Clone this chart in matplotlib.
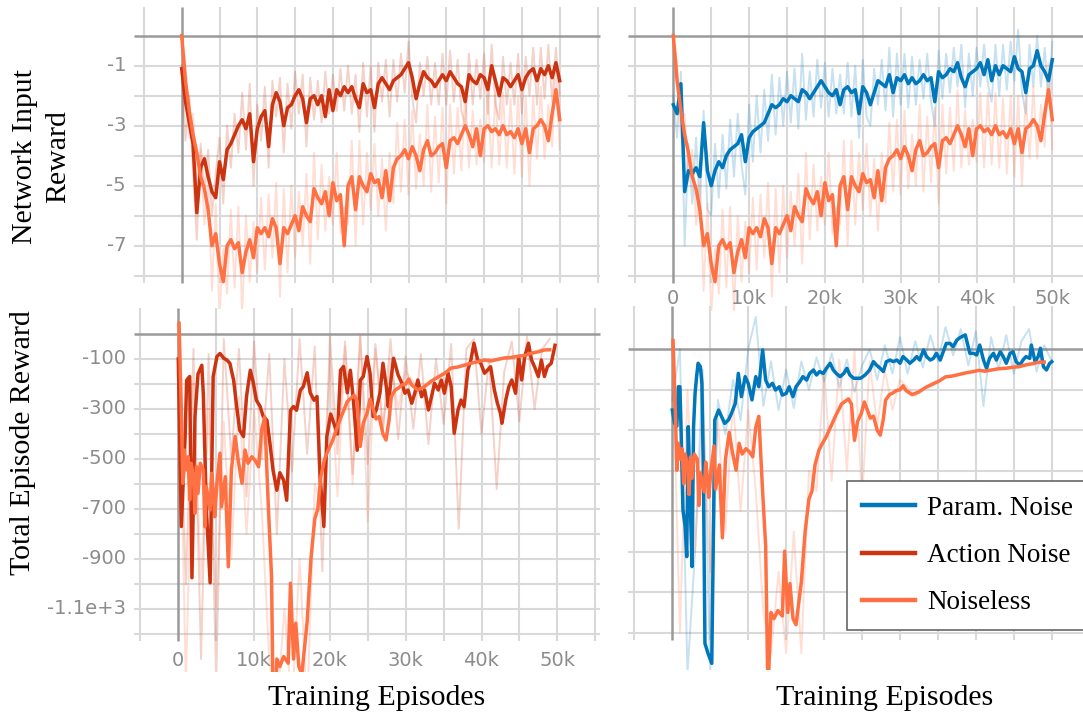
import numpy as np
import matplotlib.pyplot as plt
from matplotlib.lines import Line2D

W, H = 1083, 717

C_PARAM = '#0077bb'
C_ACTION = '#cc3311'
C_NOISELESS = '#ff7043'
GRID = '#d9d9d9'
ZERO = '#9a9a9a'
TICK = '#8c8c8c'

# ---------------- top row: network input reward (one value every 500 episodes)
top_steps = np.arange(0, 50001, 500)

act_top = [-1.1, -2.2, -2.9, -3.6, -5.9, -4.4, -4.1, -4.7, -5.2, -5.4,
           -4.2, -4.8, -3.8, -3.6, -3.3, -3.0, -2.8, -3.1, -2.6, -4.2,
           -3.1, -2.7, -2.5, -3.7, -2.3, -1.9, -2.2, -3.0, -2.4, -2.3,
           -2.0, -1.8, -2.1, -2.9, -2.1, -2.0, -2.3, -2.0, -2.7, -1.8,
           -2.5, -1.8, -2.0, -1.7, -1.9, -1.7, -2.1, -2.4, -1.6, -1.9,
           -1.8, -2.4, -1.6, -1.4, -1.6, -1.8, -1.5, -1.4, -1.3, -1.1,
           -0.9, -1.4, -2.1, -1.6, -1.2, -1.4, -1.5, -1.7, -1.5, -1.3,
           -1.5, -1.2, -1.4, -1.6, -1.7, -2.2, -1.3, -1.5, -1.6, -1.3,
           -1.4, -1.8, -1.0, -1.5, -2.0, -1.4, -1.5, -1.7, -1.5, -1.3,
           -1.8, -1.4, -1.2, -1.1, -1.5, -1.1, -1.3, -1.0, -1.4, -0.9,
           -1.5]
act_top_raw = [-1.0, -3.5, -2.0, -4.5, -6.8, -3.6, -5.2, -3.8, -6.0, -4.6,
               -3.4, -5.6, -3.0, -4.4, -2.6, -3.9, -1.9, -3.8, -1.6, -5.0,
               -2.3, -3.5, -1.7, -4.4, -1.5, -2.7, -1.4, -3.9, -1.6, -3.1,
               -1.2, -2.6, -1.3, -3.7, -1.4, -2.8, -1.5, -2.9, -1.2, -2.6,
               -1.3, -2.5, -1.1, -2.5, -1.0, -2.6, -1.3, -3.2, -0.9, -2.7,
               -1.0, -3.2, -0.9, -2.2, -0.8, -2.7, -0.8, -2.2, -0.6, -1.9,
               -0.2, -2.1, -2.9, -0.9, -2.0, -0.7, -2.3, -0.9, -2.3, -0.6,
               -2.3, -0.5, -2.2, -0.8, -2.5, -3.0, -0.6, -2.3, -0.8, -2.1,
               -0.6, -2.6, -0.3, -2.3, -2.8, -0.7, -2.3, -0.9, -2.3, -0.6,
               -2.6, -0.7, -2.0, -0.4, -2.3, -0.4, -2.1, -0.3, -2.2, -0.4,
               -2.0]

nl_top = [0.0, -1.5, -2.5, -3.3, -3.9, -4.7, -5.1, -5.8, -7.0, -6.6,
          -7.6, -8.2, -7.0, -6.8, -7.1, -6.9, -7.9, -7.2, -6.8, -7.4,
          -6.4, -6.6, -6.4, -6.7, -6.1, -6.4, -7.6, -6.4, -6.6, -6.3,
          -6.0, -6.5, -5.7, -6.0, -6.2, -5.1, -5.4, -5.6, -5.2, -6.0,
          -4.9, -5.5, -5.3, -7.0, -5.0, -4.7, -5.8, -4.7, -5.0, -5.2,
          -4.6, -4.9, -4.8, -5.4, -4.5, -5.5, -4.4, -4.1, -4.0, -3.8,
          -4.1, -3.7, -4.0, -4.5, -3.8, -3.5, -4.0, -3.9, -3.7, -3.6,
          -4.4, -3.5, -3.4, -3.6, -3.3, -3.0, -3.3, -3.7, -3.1, -4.0,
          -3.1, -3.0, -3.2, -3.1, -3.3, -3.0, -3.3, -3.2, -3.4, -3.1,
          -3.6, -3.1, -3.9, -3.1, -3.0, -2.8, -3.0, -3.5, -2.6, -1.8,
          -2.8]
nl_top_raw = [0.0, -0.9, -3.4, -2.6, -4.9, -3.8, -6.3, -4.8, -8.5, -5.6,
              -9.3, -7.1, -8.6, -5.8, -8.4, -5.7, -9.3, -6.0, -8.2, -6.2,
              -7.9, -5.4, -7.8, -5.3, -7.4, -4.9, -8.7, -5.1, -7.9, -5.0,
              -7.4, -5.2, -7.0, -4.6, -7.6, -3.9, -6.8, -4.3, -6.5, -4.7,
              -6.3, -3.9, -6.6, -5.7, -6.3, -3.5, -7.0, -3.5, -6.3, -3.9,
              -5.8, -3.6, -6.0, -4.1, -6.5, -3.9, -5.6, -2.9, -5.2, -2.8,
              -5.3, -2.5, -5.1, -3.3, -5.0, -2.3, -5.2, -2.7, -4.9, -2.4,
              -5.6, -2.3, -4.6, -2.4, -4.5, -1.8, -4.4, -2.5, -4.3, -2.8,
              -4.2, -1.9, -4.4, -1.9, -4.3, -1.9, -4.4, -2.1, -4.6, -2.0,
              -4.7, -2.0, -5.0, -2.0, -4.1, -1.7, -4.1, -2.3, -3.7, -0.9,
              -3.8]

pm_top = [-2.3, -2.6, -1.6, -5.2, -4.5, -4.6, -4.4, -4.7, -2.9, -4.5,
          -5.0, -4.5, -4.2, -4.4, -4.0, -3.8, -3.7, -3.6, -3.3, -4.2,
          -3.4, -3.2, -3.1, -3.0, -2.9, -2.6, -2.3, -2.4, -2.3, -2.1,
          -2.2, -2.0, -2.1, -2.2, -1.8, -1.9, -2.1, -1.9, -1.7, -1.5,
          -1.7, -1.9, -2.0, -1.8, -2.3, -1.8, -1.7, -1.9, -1.8, -2.6,
          -1.7, -1.9, -2.3, -1.9, -1.5, -1.6, -1.7, -1.3, -1.9, -1.4,
          -1.5, -1.3, -1.6, -1.4, -1.6, -1.5, -1.3, -1.5, -1.4, -2.2,
          -1.2, -1.4, -1.3, -1.1, -1.2, -0.9, -1.4, -1.7, -1.3, -1.2,
          -1.1, -0.9, -1.3, -0.8, -1.5, -1.0, -1.3, -1.0, -1.1, -1.2,
          -0.7, -1.1, -1.2, -1.9, -1.1, -1.0, -0.5, -1.0, -1.2, -1.5,
          -0.8]
pm_top_raw = [-2.0, -3.4, -1.2, -7.0, -3.6, -5.6, -3.4, -5.8, -2.5, -5.8,
              -6.0, -3.6, -5.4, -3.3, -5.1, -2.8, -4.7, -2.6, -4.3, -5.3,
              -2.3, -4.2, -2.0, -3.9, -1.8, -3.5, -1.3, -3.3, -1.4, -3.0,
              -1.2, -2.9, -1.1, -3.1, -0.6, -2.8, -1.2, -2.7, -0.8, -2.4,
              -0.9, -2.7, -1.1, -2.6, -1.3, -2.6, -0.9, -2.7, -1.0, -3.4,
              -0.8, -2.7, -3.0, -1.1, -2.3, -0.8, -2.5, -0.4, -2.7, -0.6,
              -2.3, -0.6, -2.4, -0.7, -2.3, -0.8, -2.1, -0.6, -2.2, -3.0,
              -0.5, -2.1, -0.6, -1.9, -0.4, -1.7, -0.3, -2.4, -0.6, -2.0,
              -0.4, -1.7, -0.3, -1.6, -2.2, -0.3, -2.0, -0.3, -1.8, -0.2,
              -1.5, 0.2, -1.9, -2.6, -0.3, -1.7, 0.0, -1.7, -0.4, -2.2,
              -0.2]

# ---------------- bottom row: total episode reward (x in thousands of episodes)
act_bot_x = [0.0, 0.4, 0.9, 1.1, 1.5, 1.8, 2.2, 2.6, 3.1, 3.3,
             3.7, 4.2, 4.6, 5.1, 5.5, 6.0, 6.4, 6.8, 7.3, 7.7,
             8.1, 8.6, 9.0, 9.5, 9.9, 10.3, 10.8, 11.2, 11.7, 12.1,
             12.5, 13.0, 13.4, 13.9, 14.3, 14.8, 15.2, 15.6, 16.1, 16.5,
             17.0, 17.4, 17.9, 18.3, 18.7, 19.2, 19.6, 20.1, 20.5, 21.0,
             21.4, 21.8, 22.3, 22.7, 23.1, 23.6, 24.0, 24.4, 24.9, 25.3,
             25.7, 26.1, 26.6, 27.0, 27.5, 27.7, 28.1, 28.4, 29.0, 29.5,
             29.9, 30.3, 30.8, 31.2, 31.6, 32.1, 32.5, 33.0, 33.4, 33.8,
             34.3, 34.7, 35.1, 35.6, 36.0, 36.4, 36.9, 37.3, 37.7, 38.2,
             38.6, 39.0, 39.5, 39.9, 40.4, 40.8, 41.2, 41.7, 42.1, 42.5,
             42.7, 43.2, 43.6, 44.0, 44.5, 44.9, 45.3, 45.7, 46.2, 46.6,
             47.0, 47.5, 47.9, 48.3, 48.7, 49.2, 49.7]
act_bot = [-100, -770, -410, -185, -170, -975, -330, -160, -125, -240,
           -700, -995, -170, -90, -78, -97, -104, -117, -185, -290,
           -385, -410, -250, -145, -195, -265, -290, -330, -345, -440,
           -545, -625, -555, -585, -665, -305, -290, -305, -225, -210,
           -155, -235, -265, -250, -570, -770, -410, -320, -355, -400,
           -145, -130, -235, -145, -265, -465, -185, -170, -90, -157,
           -330, -305, -237, -117, -224, -291, -170, -97, -164, -197,
           -237, -224, -277, -237, -184, -251, -224, -304, -251, -197,
           -224, -184, -237, -157, -211, -397, -304, -264, -291, -144,
           -104, -37, -104, -117, -157, -144, -131, -224, -277, -317,
           -357, -264, -211, -184, -237, -91, -184, -91, -37, -104,
           -131, -170, -104, -170, -131, -117, -45]
act_bot_raw_x = list(range(0, 50))
act_bot_raw = [-20, -1000, -60, -1300, -80, -1400, -20, -500, -60, -650,
               -30, -500, -80, -800, -100, -550, -20, -480, -50, -950,
               -10, -480, -30, -560, -10, -520, -40, -380, -20, -420,
               -90, -380, -80, -440, -100, -360, -40, -780, -60, -20,
               -400, -100, -620, -150, -30, -350, -10, -300, -60, -20]

nl_bot_x = [0.1, 0.4, 0.6, 0.8, 1.1, 1.3, 1.5, 1.7, 2.0, 2.2,
            2.4, 2.6, 2.9, 3.3, 3.5, 3.7, 4.2, 4.4, 4.6, 4.8,
            5.1, 5.5, 5.7, 6.2, 6.6, 7.0, 7.5, 7.9, 8.4, 8.8,
            9.2, 9.7, 10.1, 10.6, 11.0, 11.4, 11.9, 12.1, 12.3, 12.6,
            13.0, 13.4, 13.9, 14.5, 14.8, 15.2, 15.5, 15.9, 16.3, 17.0,
            17.5, 18.0, 18.4, 18.8, 19.3, 19.7, 20.3, 20.9, 21.5, 22.3,
            23.2, 23.6, 24.0, 24.4, 24.9, 25.3, 25.7, 26.1, 26.5, 27.0,
            27.4, 27.8, 28.1, 28.6, 29.0, 29.5, 30.0, 30.4, 30.8, 31.6,
            32.5, 33.4, 34.3, 35.1, 36.0, 36.9, 37.7, 38.6, 39.5, 40.4,
            41.2, 42.1, 43.0, 43.9, 44.8, 45.7, 46.6, 47.5, 48.3, 49.0]
nl_bot = [43, -304, -597, -464, -544, -491, -664, -517, -571, -717,
          -531, -637, -517, -544, -771, -611, -704, -557, -624, -731,
          -597, -477, -691, -571, -931, -544, -410, -504, -597, -464,
          -517, -491, -504, -531, -384, -331, -704, -837, -970, -1700,
          -1300, -1330, -1290, -1317, -997, -1300, -1157, -1330, -1360, -1150,
          -900, -740, -700, -571, -500, -470, -430, -380, -330, -270,
          -245, -270, -450, -357, -317, -260, -300, -340, -330, -400,
          -424, -345, -251, -224, -217, -204, -200, -180, -204, -224,
          -210, -188, -172, -158, -136, -132, -125, -117, -111, -104,
          -108, -102, -96, -94, -89, -86, -77, -71, -64, -63]
nl_bot_raw_x = list(range(0, 31)) + list(range(32, 49, 2))
nl_bot_raw = [40, -1400, -200, -1000, -300, -1100, -350, -900, -250, -800,
              -300, -700, -1300, -1500, -1100, -1500, -900, -1500, -600, -700,
              -100, -650, -50, -600, 0, -750, -60, -380, -100, -300,
              -150, -230, -170, -140, -120, -105, -100, -90, -80, -60]

pm_bot_x = [0.0, 0.3, 0.6, 0.8, 1.0, 1.2, 1.4, 1.7, 1.9, 2.1,
            2.3, 2.6, 2.8, 3.0, 3.2, 3.4, 3.7, 3.9, 4.1, 4.3,
            4.7, 5.2, 5.4, 5.6, 6.1, 6.5, 6.9, 7.4, 7.8, 8.3,
            8.7, 9.1, 9.6, 10.0, 10.5, 11.0, 11.4, 11.9, 12.3, 12.7,
            13.2, 13.6, 14.1, 14.5, 15.0, 15.4, 15.9, 16.3, 16.8, 17.2,
            17.7, 18.1, 18.6, 19.0, 19.4, 19.9, 20.3, 20.8, 21.2, 21.6,
            22.1, 22.6, 23.0, 23.4, 23.9, 24.8, 25.4, 26.0, 26.5, 26.9,
            27.4, 27.8, 28.2, 28.7, 29.1, 29.6, 30.0, 30.4, 30.9, 31.3,
            31.8, 32.2, 32.6, 33.1, 33.5, 34.0, 34.4, 34.8, 35.3, 35.7,
            36.1, 36.6, 37.0, 37.5, 38.0, 38.6, 39.2, 39.7, 40.1, 40.5,
            41.0, 41.4, 41.8, 42.3, 42.7, 43.2, 43.6, 44.0, 44.5, 44.9,
            45.3, 45.8, 46.2, 46.6, 47.1, 47.3, 47.8, 48.2, 48.5, 48.9,
            49.3, 49.7, 50.0]
pm_bot = [-300, -365, -380, -185, -185, -464, -794, -876, -1024, -382,
          -662, -1073, -382, -218, -135, -69, -86, -168, -629, -1452,
          -1501, -1551, -958, -349, -300, -333, -366, -349, -316, -267,
          -119, -234, -135, -168, -250, -135, -185, -3, -152, -185,
          -168, -201, -185, -226, -218, -185, -234, -185, -160, -135,
          -152, -119, -102, -127, -110, -119, -94, -69, -102, -119,
          -135, -119, -94, -127, -143, -143, -127, -102, -61, -78,
          -94, -110, -61, -53, -61, -53, -69, -36, -53, -69,
          -53, -36, -53, -3, -36, -53, -45, -20, -53, -12,
          29, 29, 13, 46, 60, 71, -20, -20, -28, 21,
          -53, -94, -45, -20, -53, -12, -36, -69, -20, -12,
          -61, -78, -53, -36, -45, 21, -61, -36, 5, -86,
          -102, -70, -61]
pm_bot_raw_x = list(range(0, 51))
pm_bot_raw = [-250, 0, -1600, -1000, -100, -1600, -250, -420, -150, -350,
              0, 160, -280, -60, -300, -100, -290, -60, -200, -40,
              -160, -20, -190, -50, -210, -80, 0, -150, 20, -120,
              60, -120, 40, -90, 70, -60, 110, -30, 100, -80,
              90, -280, 60, -100, 70, -120, 40, 100, -110, 20,
              -60]

top_ticks = [-1, -3, -5, -7]
bot_ticks = [-100, -300, -500, -700, -900, -1100]
bot_tick_labels = ['-100', '-300', '-500', '-700', '-900', '-1.1e+3']
x_ticks = [0, 10000, 20000, 30000, 40000, 50000]
x_tick_labels = ['0', '10k', '20k', '30k', '40k', '50k']


fig = plt.figure(figsize=(W / 100, H / 100), dpi=100)


def panel(left, right, top, bottom, x0, sx, y0, sy):
    # box of the axes in pixels, pixel position of the origin, pixels per unit
    ax = fig.add_axes([left / W, 1 - bottom / H, (right - left) / W, (bottom - top) / H])
    ax.set_xlim((left - x0) / sx, (right - x0) / sx)
    ax.set_ylim((y0 - bottom) / sy, (y0 - top) / sy)
    ax.axis('off')
    ax.patch.set_alpha(0)
    px = lambda p: (p - x0) / sx
    py = lambda p: (y0 - p) / sy
    return ax, px, py


def grid(ax, px, py, xspan, yspan, ylines):
    xs = (px(xspan[0]), px(xspan[1]))
    ys = (py(yspan[0]), py(yspan[1]))
    vlines = [v for v in range(-5000, 55001, 5000) if v != 0]
    ax.hlines(ylines, *xs, colors=GRID, lw=1.5, zorder=0)
    ax.vlines(vlines, ys[1], ys[0], colors=GRID, lw=1.5, zorder=0)
    ax.hlines(0, *xs, colors=ZERO, lw=1.8, zorder=0.5)
    ax.vlines(0, ys[1], ys[0], colors=ZERO, lw=1.8, zorder=0.5)


def faint(ax, x, y, c):
    ax.plot(x, y, color=c, lw=1.4, alpha=0.22, zorder=1, solid_joinstyle='round')


def bold(ax, x, y, c, lw=2.5):
    ax.plot(x, y, color=c, lw=lw, zorder=2, solid_joinstyle='round')


tick_font = dict(family='DejaVu Sans', size=14, color=TICK)

# top left: action noise vs noiseless
ax, px, py = panel(128, 601, 4, 309, 181.7, 0.00756, 35.7, 30)
grid(ax, px, py, (134, 600), (7, 283), [-1, -2, -3, -4, -5, -6, -7, -8])
faint(ax, top_steps, act_top_raw, C_ACTION)
faint(ax, top_steps, nl_top_raw, C_NOISELESS)
bold(ax, top_steps, act_top, C_ACTION)
bold(ax, top_steps, nl_top, C_NOISELESS)
for v in top_ticks:
    ax.text(px(126), v, str(v), ha='right', va='center', **tick_font)

# top right: param noise vs noiseless
ax, px, py = panel(625, 1083, 4, 311, 673.3, 0.00758, 35.7, 30)
grid(ax, px, py, (628, 1083), (7, 283), [-1, -2, -3, -4, -5, -6, -7, -8])
faint(ax, top_steps, pm_top_raw, C_PARAM)
faint(ax, top_steps, nl_top_raw, C_NOISELESS)
bold(ax, top_steps, pm_top, C_PARAM)
bold(ax, top_steps, nl_top, C_NOISELESS)
for x, lab in zip(x_ticks, x_tick_labels):
    ax.text(x, py(298), lab, ha='center', va='center', zorder=5, **tick_font)

# bottom left
ax, px, py = panel(128, 601, 298, 672, 178.3, 0.00758, 334, 0.25)
grid(ax, px, py, (134, 600), (308, 641), list(range(-100, -1201, -100)))
faint(ax, np.array(act_bot_raw_x) * 1000, act_bot_raw, C_ACTION)
faint(ax, np.array(nl_bot_raw_x) * 1000, nl_bot_raw, C_NOISELESS)
bold(ax, np.array(act_bot_x) * 1000, act_bot, C_ACTION)
bold(ax, np.array(nl_bot_x) * 1000, nl_bot, C_NOISELESS)
for v, lab in zip(bot_ticks, bot_tick_labels):
    ax.text(px(126), v, lab, ha='right', va='center', **tick_font)
for x, lab in zip(x_ticks, x_tick_labels):
    ax.text(x, py(660), lab, ha='center', va='center', zorder=5, **tick_font)

# bottom right
ax, px, py = panel(625, 1083, 298, 670, 672.3, 0.00759, 349.3, 0.2025)
grid(ax, px, py, (628, 1083), (306, 640), list(range(-200, -1401, -200)))
faint(ax, np.array(pm_bot_raw_x) * 1000, pm_bot_raw, C_PARAM)
faint(ax, np.array(nl_bot_raw_x) * 1000, nl_bot_raw, C_NOISELESS)
bold(ax, np.array(pm_bot_x) * 1000, pm_bot, C_PARAM)
bold(ax, np.array(nl_bot_x) * 1000, nl_bot, C_NOISELESS)

# labels
serif = dict(family='Liberation Serif', size=21.5, color='black')
fig.text(42 / W, 1 - 157 / H, 'Network Input\nReward', rotation=90, ha='center', va='center',
         multialignment='center', linespacing=1.35, **serif)
fig.text(23 / W, 1 - 443 / H, 'Total Episode Reward', rotation=90, ha='center', va='center', **serif)
fig.text(377 / W, 1 - 698 / H, 'Training Episodes', ha='center', va='center', **serif)
fig.text(885 / W, 1 - 698 / H, 'Training Episodes', ha='center', va='center', **serif)

handles = [Line2D([], [], color=C_PARAM, lw=3.2),
           Line2D([], [], color=C_ACTION, lw=3.2),
           Line2D([], [], color=C_NOISELESS, lw=3.2)]
leg = fig.legend(handles, ['Param. Noise', 'Action Noise', 'Noiseless'], loc='upper left',
                 bbox_to_anchor=(847 / W, 1 - 481 / H), borderaxespad=0,
                 prop={'family': 'Liberation Serif', 'size': 19.5},
                 fancybox=False, framealpha=1, edgecolor='#666666',
                 borderpad=0.55, labelspacing=0.82, handlelength=1.96, handletextpad=0.45)
leg.get_frame().set_linewidth(1.2)
leg.set_zorder(10)

fig.savefig('out.png', dpi=100)
